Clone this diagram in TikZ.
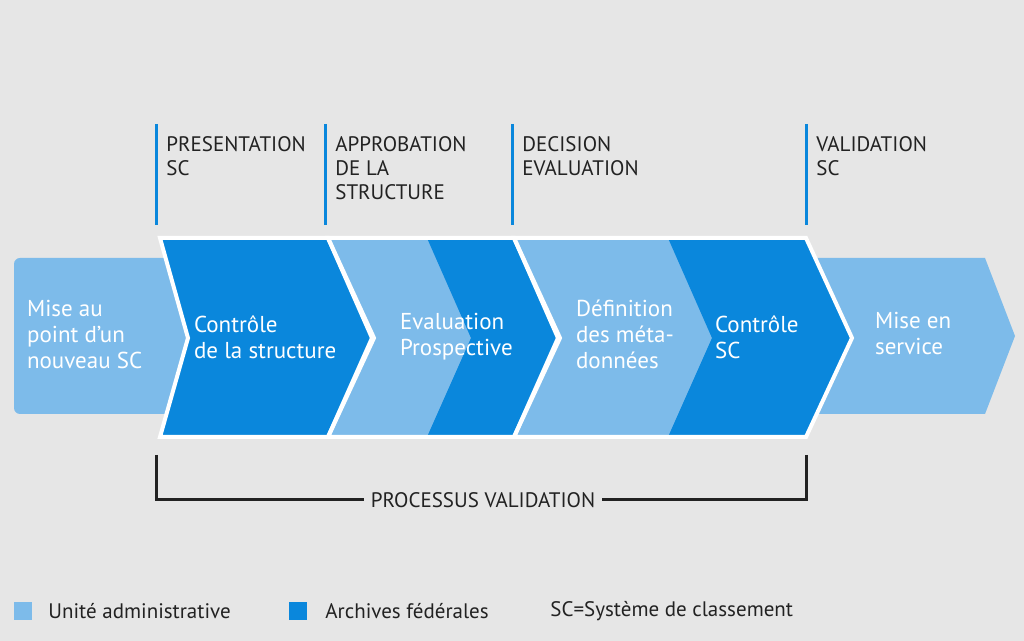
\documentclass[tikz,border=0pt]{standalone}
\usepackage{fontspec}
\setmainfont{PT Sans}
\definecolor{bgGrey}{HTML}{E6E6E6}
\definecolor{uaBlue}{HTML}{7DBBEA}
\definecolor{afBlue}{HTML}{0A87DC}
\definecolor{txtGrey}{HTML}{222222}
\tikzset{
  stage/.style={text=white,align=left,anchor=west,font=\fontsize{11.5}{13}\selectfont},
  head/.style={text=txtGrey,align=left,anchor=north west,inner sep=0,font=\fontsize{10.5}{12}\selectfont},
  tick/.style={draw=afBlue,line width=1.5pt},
  chev/.style={draw=white,line width=2pt,line join=miter},
}
\newcommand{\chevpath}[3]{(#1,238) -- (#2,238) -- (#2+46,338) -- (#2,437) -- (#1,437) -- (#1+#3,338) -- cycle}
\begin{document}
\begin{tikzpicture}[x=0.5pt,y=-0.5pt]
\fill[bgGrey] (0,0) rectangle (1024,641);
\useasboundingbox (0,0) rectangle (1024,641);

% outer steps
\fill[uaBlue,rounded corners=3pt] (14,258) rectangle (200,414);
\fill[uaBlue] (800,258) -- (985,258) -- (1015,336) -- (985,414) -- (800,414) -- cycle;

% validation chevrons
\fill[afBlue] \chevpath{160}{328}{28};
\fill[uaBlue] \chevpath{328}{514}{44};
\fill[afBlue] \chevpath{427}{514}{44};
\fill[uaBlue] \chevpath{514}{806}{44};
\fill[afBlue] \chevpath{668}{806}{44};
\draw[chev] \chevpath{160}{328}{28};
\draw[chev] \chevpath{328}{514}{44};
\draw[chev] \chevpath{514}{806}{44};

\node[stage] (mise) at (20,334) {Mise au\\point d’un\\nouveau SC};
\node[stage] (ctrl) at (187,337) {Contrôle\\de la structure};
\node[stage] (eval) at (393,337) {Evaluation\\Prospective};
\node[stage] (defi) at (569,334) {Définition\\des méta-\\données};
\node[stage] (ctsc) at (708,337) {Contrôle\\SC};
\node[stage] (serv) at (868,333) {Mise en\\service};

% milestones
\foreach \x/\t in {156/PRESENTATION\\SC, 325/APPROBATION\\DE LA\\STRUCTURE, 512/DECISION\\EVALUATION, 806/VALIDATION\\SC}{
  \draw[tick] (\x,124) -- (\x,225);
  \node[head] at (\x+10,136) {\t};
}

% bracket
\node[text=txtGrey,font=\fontsize{10.5}{12}\selectfont] (proc) at (483,500) {PROCESSUS VALIDATION};
\coordinate (bl) at (156,455);
\coordinate (br) at (806,455);
\draw[txtGrey,line width=1.5pt] (bl) |- (proc.west);
\draw[txtGrey,line width=1.5pt] (br) |- (proc.east);

% key
\fill[uaBlue] (14,602) rectangle (32,620);
\node[head,anchor=west] (kua) at (48,611) {Unité administrative};
\fill[afBlue] (289,602) rectangle (307,620);
\node[head,anchor=west] (kaf) at (325,611) {Archives fédérales};
\node[head,anchor=west] (ksc) at (550,611) {SC=Système de classement};
\end{tikzpicture}
\end{document}
